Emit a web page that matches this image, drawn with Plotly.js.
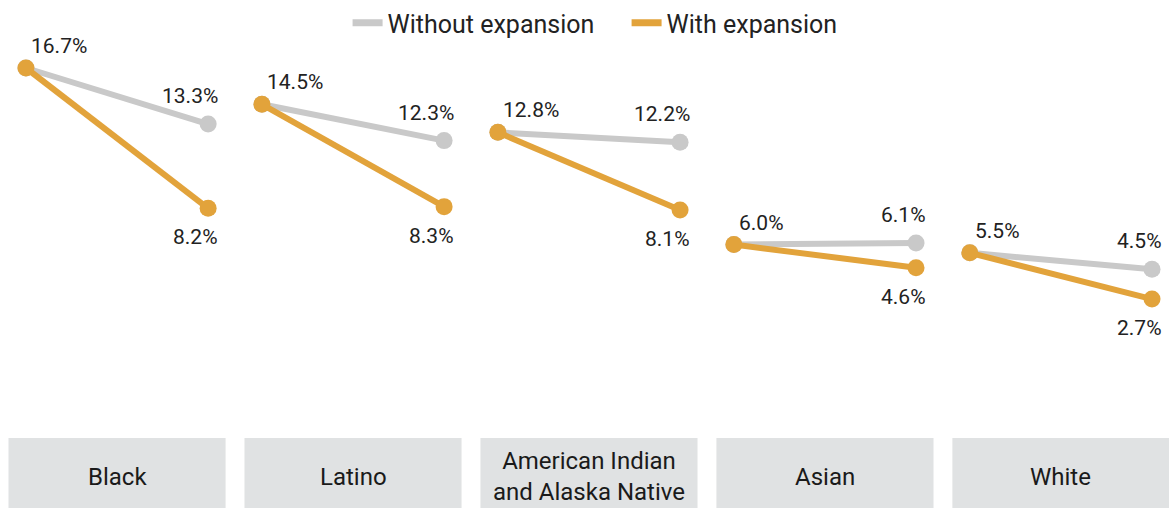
<!DOCTYPE html>
<html>
<head>
<meta charset="utf-8">
<script src="https://cdn.plot.ly/plotly-3.0.1.min.js"></script>
<style>html,body{margin:0;padding:0;background:#fff;}#chart{width:1169px;height:508px;}</style>
</head>
<body>
<div id="chart"></div>
<script>
var categories = ["Black", "Latino", "American Indian<br>and Alaska Native", "Asian", "White"];
var baseline = [16.7, 14.5, 12.8, 6.0, 5.5];
var withoutExpansion = [13.3, 12.3, 12.2, 6.1, 4.5];
var withExpansion = [8.2, 8.3, 8.1, 4.6, 2.7];

var GRAY = "#c9c9c9", ORANGE = "#e2a33b";
var FONT = "'Roboto', 'DejaVu Sans Condensed', sans-serif";
var off = 0.386;

function series(endVals) {
  var x = [], y = [];
  categories.forEach(function (c, i) {
    x.push(i - off, i + off, null);
    y.push(baseline[i], endVals[i], null);
  });
  return {x: x, y: y};
}
var g = series(withoutExpansion), o = series(withExpansion);

var traces = [
  {x: g.x, y: g.y, mode: "lines+markers", line: {color: GRAY, width: 6}, marker: {color: GRAY, size: 17}, showlegend: false, hoverinfo: "skip"},
  {x: o.x, y: o.y, mode: "lines+markers", line: {color: ORANGE, width: 6}, marker: {color: ORANGE, size: 17}, showlegend: false, hoverinfo: "skip"},
  {x: [null], y: [null], mode: "lines", name: "Without expansion", line: {color: GRAY, width: 7}},
  {x: [null], y: [null], mode: "lines", name: "With expansion", line: {color: ORANGE, width: 7}}
];

var annotations = [], shapes = [];
var lblFont = {family: FONT, size: 21, color: "#222"};
categories.forEach(function (c, i) {
  annotations.push({x: i - off, y: baseline[i], text: baseline[i].toFixed(1) + "%", showarrow: false, xanchor: "left", yanchor: "bottom", xshift: 3, yshift: 8, font: lblFont});
  annotations.push({x: i + off, y: withoutExpansion[i], text: withoutExpansion[i].toFixed(1) + "%", showarrow: false, xanchor: "right", yanchor: "bottom", xshift: 12, yshift: 14, font: lblFont});
  annotations.push({x: i + off, y: withExpansion[i], text: withExpansion[i].toFixed(1) + "%", showarrow: false, xanchor: "right", yanchor: "top", xshift: 12, yshift: -15, font: lblFont});
  shapes.push({type: "rect", xref: "x", yref: "paper", x0: i - 0.46, x1: i + 0.46, y0: 0, y1: 0.138, fillcolor: "#e0e2e3", line: {width: 0}, layer: "below"});
  annotations.push({x: i, xref: "x", y: 0.062, yref: "paper", text: c, showarrow: false, xanchor: "center", yanchor: "middle", font: {family: FONT, size: 24, color: "#1a1a1a"}});
});

var layout = {
  width: 1169, height: 508,
  margin: {l: 0, r: 0, t: 0, b: 0},
  paper_bgcolor: "#fff", plot_bgcolor: "#fff",
  xaxis: {range: [-0.496, 4.458], visible: false, fixedrange: true},
  yaxis: {range: [-9.96, 20.82], visible: false, fixedrange: true},
  showlegend: true,
  legend: {orientation: "h", x: 0.536, xanchor: "center", y: 1.0, yanchor: "top", font: {family: FONT, size: 25, color: "#222"}, entrywidth: 234, itemwidth: 30, bgcolor: "rgba(0,0,0,0)"},
  annotations: annotations,
  shapes: shapes
};

Plotly.newPlot("chart", traces, layout, {staticPlot: true, displayModeBar: false});
</script>
</body>
</html>
